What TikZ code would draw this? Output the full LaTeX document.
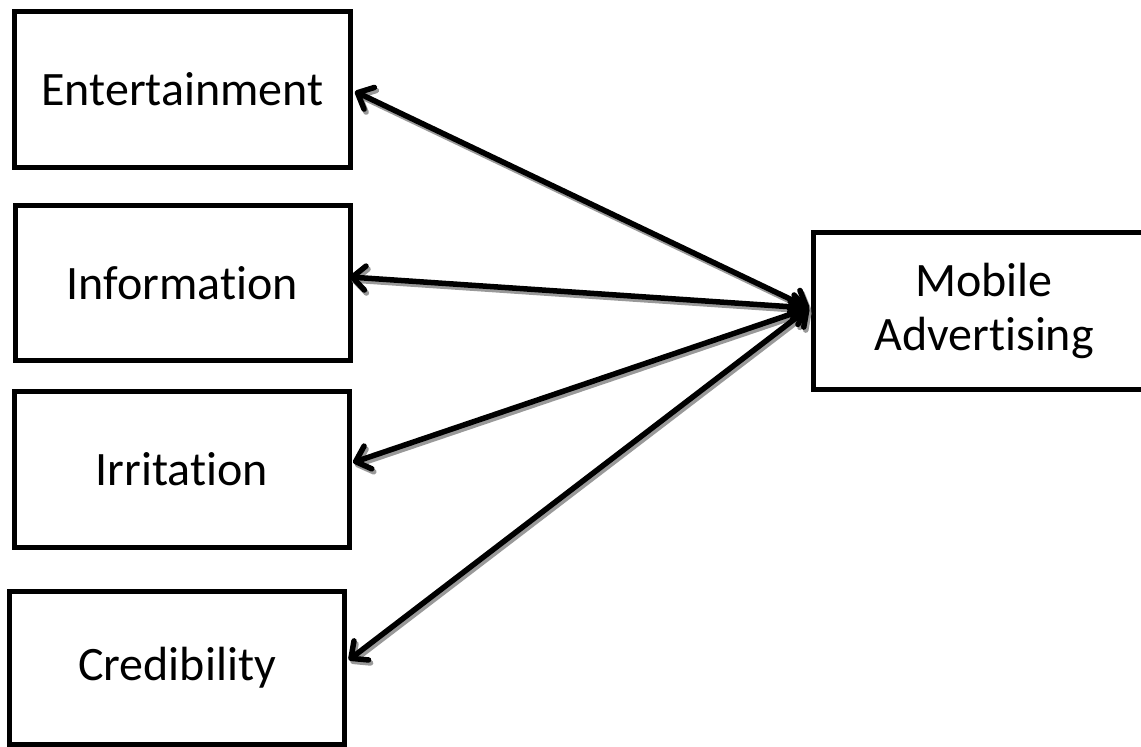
\documentclass[tikz,border=0pt]{standalone}
\usepackage{fontspec}
\setmainfont{Carlito}[Ligatures={NoCommon}]
\usetikzlibrary{arrows.meta,calc}
\tikzset{
  box/.style={draw=black, line width=5pt, rectangle, inner sep=0pt, align=center,
    font=\fontsize{48}{54}\selectfont},
  barb/.tip={Straight Barb[length=13pt, width=24pt, round]},
  conn/.style={line width=5.5pt, line cap=round, barb-barb},
  connshadow/.style={conn, draw=black!40},
}
\begin{document}
\begin{tikzpicture}[x=1pt,y=-1pt]
\useasboundingbox (0,0) rectangle (1141,747);
\node[box, minimum width=336pt, minimum height=156pt] (ent) at (182.5,89.5) {Entertainment};
\node[box, minimum width=335pt, minimum height=155pt] (inf) at (182.5,283) {Information};
\node[box, minimum width=335pt, minimum height=156pt] (irr) at (182,469.5) {Irritation};
\node[box, minimum width=334.5pt, minimum height=152.5pt] (cre) at (177,668) {Credibility};
\node[box, minimum width=341pt, minimum height=157pt] (ma) at (984,311) {Mobile\\Advertising};
\coordinate (hub) at ($(ma.west)+(-2,-3)$);
\coordinate (tent) at ($(ent.east)+(2,2)$);
\coordinate (tinf) at ($(inf.east)+(-3,-6)$);
\coordinate (tirr) at ($(irr.east)+(1,-7)$);
\coordinate (tcre) at ($(cre.east)+(2,-8)$);
\begin{scope}[transform canvas={shift={(2pt,-3pt)}}]
\draw[connshadow] (hub) -- (tent);
\draw[connshadow] (hub) -- (tinf);
\draw[connshadow] (hub) -- (tirr);
\draw[connshadow] (hub) -- (tcre);
\end{scope}
\draw[conn] (hub) -- (tent);
\draw[conn] (hub) -- (tinf);
\draw[conn] (hub) -- (tirr);
\draw[conn] (hub) -- (tcre);
\end{tikzpicture}
\end{document}
